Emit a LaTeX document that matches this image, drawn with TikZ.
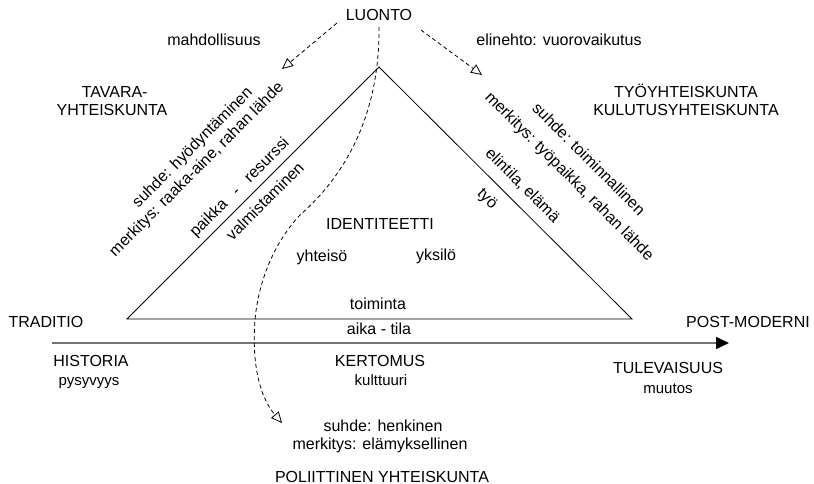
\documentclass[tikz,border=0pt]{standalone}
\usepackage{fontspec}
\setmainfont{Liberation Sans}
\usetikzlibrary{arrows.meta}
\begin{document}
\begin{tikzpicture}[x=1pt,y=-1pt,
  lbl/.style={inner sep=0pt, text height=11.5pt, text depth=3.4pt, font=\fontsize{16}{19}\selectfont},
  sml/.style={lbl, font=\fontsize{15}{18}\selectfont},
  dsh/.style={line width=0.8pt, dash pattern=on 4pt off 3pt, -{Triangle[open,length=11pt,width=10pt]}},
  tri/.style={line width=0.8pt, line join=miter},
  axis/.style={line width=1.6pt, draw=black!55, -{Triangle[length=13pt,width=12pt,color=black]}}
]
\useasboundingbox (0,0) rectangle (814,484);

% triangle
\coordinate (ta) at (379,67);
\coordinate (tl) at (127,319);
\coordinate (tr) at (632,319);
\draw[tri] (tl) -- (ta) -- (tr) -- cycle;

% time axis
\coordinate (ax0) at (52,343);
\coordinate (ax1) at (729,343);
\draw[axis] (ax0) -- (ax1);

% top
\node[lbl] (luonto) at (379,16) {LUONTO};
\node[lbl] (mahd) at (214,41) {mahdollisuus};
\node[lbl] (elin) at (559,41) {elinehto: vuorovaikutus};

\coordinate (ls) at (337,23);
\coordinate (le) at (282,69);
\coordinate (rs) at (421,30);
\coordinate (re) at (482,75);
\coordinate (ms) at (379,27);
\coordinate (mm1) at (300,215);
\coordinate (mm2) at (255,320);
\coordinate (me) at (282,423);
\draw[dsh] (ls) -- (le);
\draw[dsh] (rs) -- (re);
\draw[dsh] (ms) .. controls (380,130) and (332,187) .. (mm1)
  .. controls (272,245) and (258,285) .. (mm2)
  .. controls (252,360) and (258,395) .. (me);

% societies
\node[lbl] (tav1) at (112,93) {TAVARA\rlap{-}};
\node[lbl] (tav2) at (112,111) {YHTEISKUNTA};
\node[lbl] (tyo1) at (686,93) {TYÖYHTEISKUNTA};
\node[lbl] (tyo2) at (686,111) {KULUTUSYHTEISKUNTA};

% left side labels
\node[lbl, rotate=45] (s1) at (193,148) {suhde: hyödyntäminen};
\node[lbl, rotate=45] (s2) at (197,170) {merkitys: raaka-aine, rahan lähde};
\node[lbl, rotate=45] (s3) at (240,188) {paikka\hspace{0.8em}-\hspace{0.8em}resurssi};
\node[lbl, rotate=45] (s4) at (266,202) {valmistaminen};

% right side labels
\node[lbl, rotate=-45] (r1) at (588,160) {suhde: toiminnallinen};
\node[lbl, rotate=-45] (r2) at (569,177) {merkitys: työpaikka, rahan lähde};
\node[lbl, rotate=-45] (r3) at (522,186) {elintila, elämä};
\node[lbl, rotate=-45] (r4) at (487,199) {työ};

% inside
\node[lbl] (ident) at (380,225) {IDENTITEETTI};
\node[lbl] (yhteiso) at (322,257) {yhteisö};
\node[lbl] (yksilo) at (436,256) {yksilö};
\node[lbl] (toim) at (378,305) {toiminta};
\node[lbl] (aika) at (379,330) {aika - tila};

% axis labels
\node[lbl] (trad) at (46,323) {TRADITIO};
\node[lbl] (post) at (748,323) {POST-MODERNI};
\node[lbl] (hist) at (91,362) {HISTORIA};
\node[sml] (pysy) at (89,381) {pysyvyys};
\node[lbl] (kert) at (380,362) {KERTOMUS};
\node[sml] (kult) at (381,381) {kulttuuri};
\node[lbl] (tulev) at (668,369) {TULEVAISUUS};
\node[sml] (muut) at (668,389) {muutos};

% bottom
\node[lbl] (henk) at (383,427) {suhde: henkinen};
\node[lbl] (elam) at (380,445) {merkitys: elämyksellinen};
\node[lbl] (poli) at (382,478) {POLIITTINEN YHTEISKUNTA};
\end{tikzpicture}
\end{document}
